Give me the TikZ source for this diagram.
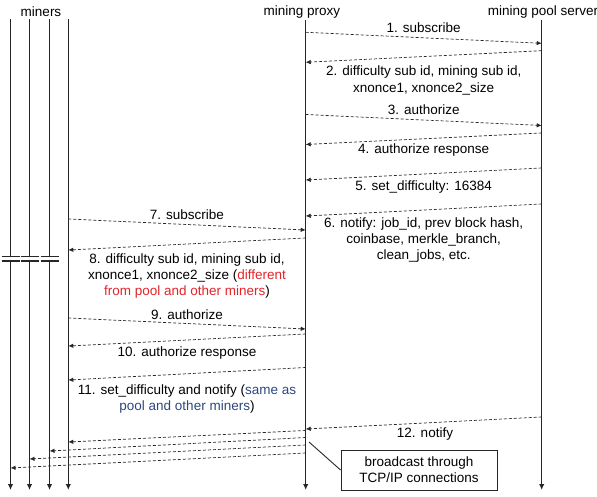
\documentclass[tikz,border=0pt]{standalone}
\usepackage{fontspec}
\setmainfont{Liberation Sans}
\usetikzlibrary{arrows.meta}
\definecolor{diffred}{RGB}{228,36,40}
\definecolor{sameblue}{RGB}{45,72,124}
\definecolor{linegray}{RGB}{38,38,38}
\begin{document}
\begin{tikzpicture}[x=1pt,y=-1pt,
        lifeline/.style={draw=linegray,line width=1.4pt,-{Latex[length=6pt,width=5.5pt]}},
        msg/.style={draw=linegray,line width=0.7pt,dash pattern=on 3pt off 2pt,-{Latex[length=5pt,width=4.5pt]}},
        lbl/.style={font=\fontsize{13.5}{16.3}\selectfont,align=center,inner sep=0pt}]
        \useasboundingbox (0,0) rectangle (597,496);
        \def\px{305.7}
        \def\sx{541.7}
        % heads
        \node[lbl] (minershead) at (41,12) {miners};
        \node[lbl] (proxyhead) at (302,12) {mining proxy};
        \node[lbl] (poolhead) at (543,12) {mining pool server};
        % lifelines
        \coordinate (proxytop) at (\px,20);
        \coordinate (proxybot) at (\px,490);
        \coordinate (pooltop) at (\sx,20);
        \coordinate (poolbot) at (\sx,490);
        \draw[lifeline] (proxytop) -- (proxybot);
        \draw[lifeline] (pooltop) -- (poolbot);
        \foreach \x [count=\i] in {10.5,29.5,49.5} {
            \coordinate (mtop\i) at (\x,19);
            \coordinate (mcut\i) at (\x,256.7);
            \coordinate (mgo\i) at (\x,261);
            \coordinate (mbot\i) at (\x,490);
            \draw[lifeline,-] (mtop\i) -- (mcut\i);
            \draw[lifeline] (mgo\i) -- (mbot\i);
            \draw[linegray,line width=1.2pt] (\x-9,256.7) -- (\x+9,256.7);
            \draw[linegray,line width=1.2pt] (\x-9,261) -- (\x+9,261);
        }
        \coordinate (mtop4) at (68.3,19);
        \coordinate (mbot4) at (68.3,490);
        \draw[lifeline] (mtop4) -- (mbot4);
        % messages
        \foreach \name/\xa/\ya/\xb/\yb in {
                a/\px/32.3/\sx/43.3, b/\sx/50.7/\px/62.3,
                c/\px/114.5/\sx/125.5, d/\sx/133/\px/144.5,
                e/\sx/168/\px/180, f/\sx/204/\px/216,
                g/68.3/219/\px/230, h/\px/238/68.3/250,
                i/68.3/318/\px/329, j/\px/334/68.3/346,
                k/\px/367.5/68.3/380, l/\sx/417/\px/429,
                ba/\px/430.5/68.3/442, bb/\px/437.5/49.5/451,
                bc/\px/445/29.5/459, bd/\px/453/10.5/468} {
            \coordinate (\name from) at (\xa,\ya);
            \coordinate (\name to) at (\xb,\yb);
            \draw[msg] (\name from) -- (\name to);
        }
        % labels
        \node[lbl] (la) at (423.7,28) {1. subscribe};
        \node[lbl] (lb) at (423.7,80.5) {2. difficulty sub id, mining sub id,\\xnonce1, xnonce2\_size};
        \node[lbl] (lc) at (423.7,110) {3. authorize};
        \node[lbl] (ld) at (423.7,150) {4. authorize response};
        \node[lbl] (le) at (423.7,187) {5. set\_difficulty: 16384};
        \node[lbl] (lf) at (423.7,240) {6. notify: job\_id, prev block hash,\\coinbase, merkle\_branch,\\clean\_jobs, etc.};
        \node[lbl] (lg) at (187,215) {7. subscribe};
        \node[lbl] (lh) at (187,276) {8. difficulty sub id, mining sub id,\\xnonce1, xnonce2\_size (\textcolor{diffred}{different}\\\textcolor{diffred}{from pool and other miners})};
        \node[lbl] (li) at (187,315) {9. authorize};
        \node[lbl] (lj) at (187,353) {10. authorize response};
        \node[lbl] (lk) at (187,399) {11. set\_difficulty and notify (\textcolor{sameblue}{same as}\\\textcolor{sameblue}{pool and other miners})};
        \node[lbl] (ll) at (425,434) {12. notify};
        % note box
        \node[lbl,draw=linegray,line width=0.9pt,minimum width=156pt,minimum height=40pt] (bcast) at (419,470) {broadcast through\\TCP/IP connections};
        \coordinate (bcastpin) at (309,442);
        \draw[linegray,line width=0.9pt] (bcast.west) -- (bcastpin);
\end{tikzpicture}
\end{document}
